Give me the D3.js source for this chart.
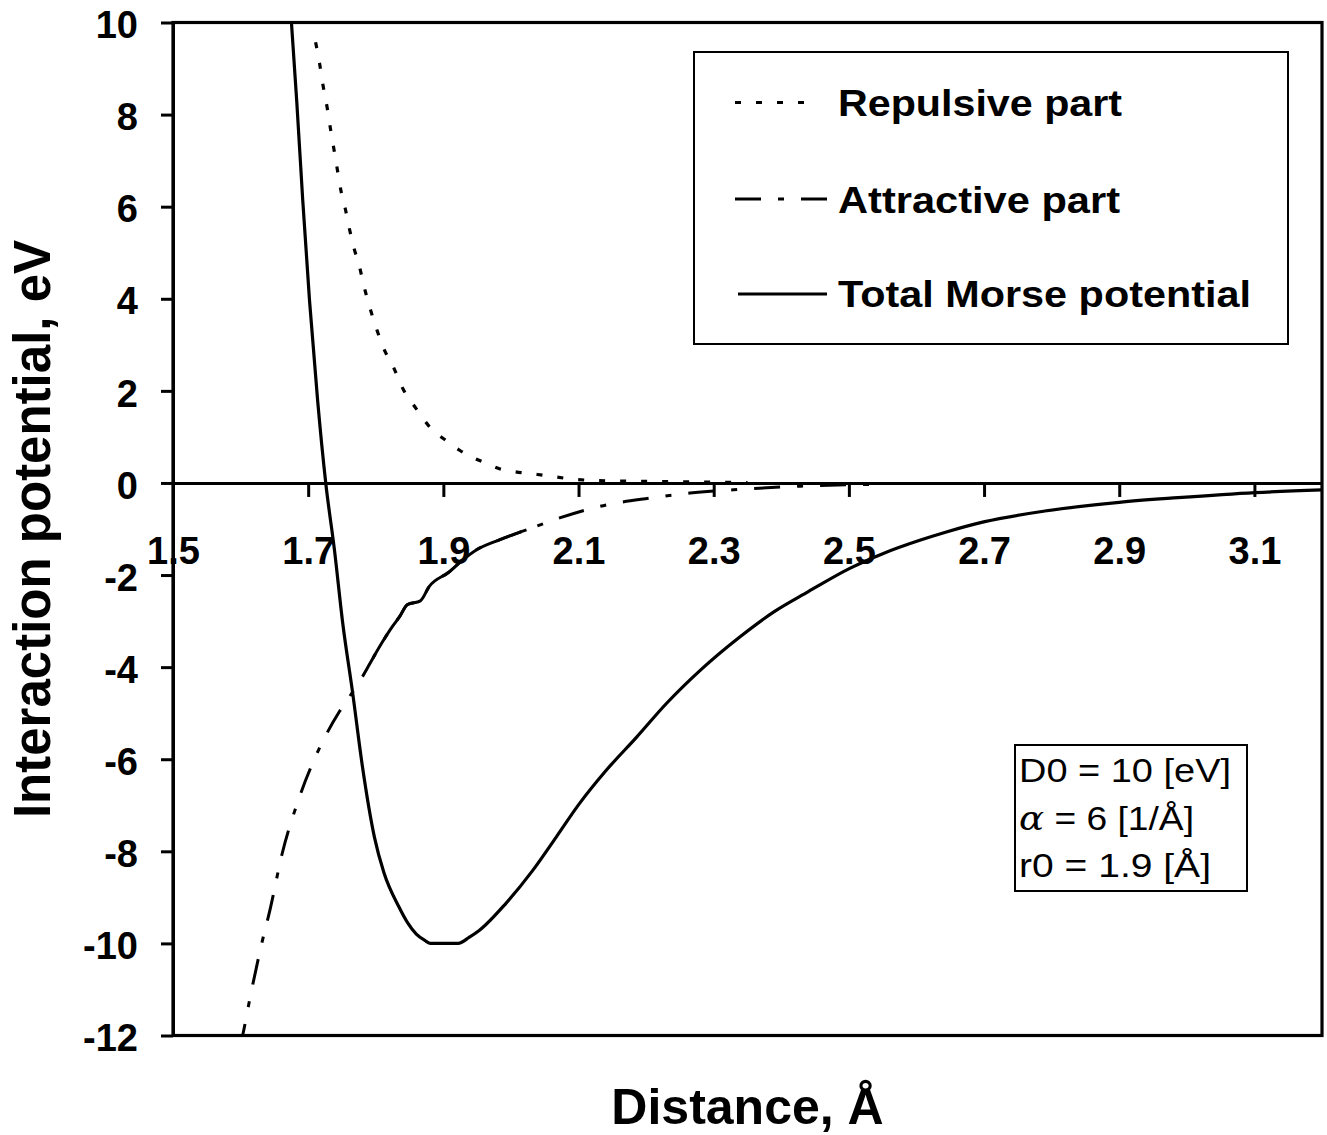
<!DOCTYPE html>
<html><head><meta charset="utf-8">
<script src="https://cdn.jsdelivr.net/npm/d3@7"></script>
<style>body{margin:0;background:#fff}</style>
</head><body>
<svg id="c" width="1327" height="1135"></svg>
<script>
// ---- data ----
const xTicks = [1.5, 1.7, 1.9, 2.1, 2.3, 2.5, 2.7, 2.9, 3.1];
const yTicks = [10, 8, 6, 4, 2, 0, -2, -4, -6, -8, -10, -12];

const repulsiveR = [1.711, 1.717, 1.722, 1.728, 1.733, 1.738, 1.743, 1.749, 1.755, 1.761, 1.768, 1.776, 1.783, 1.791, 1.802, 1.813, 1.825, 1.840, 1.860, 1.882, 1.904, 1.924, 1.944, 1.963, 1.983, 2.003, 2.030, 2.057, 2.087, 2.130, 2.230, 2.350];
const repulsiveV = [9.57, 9.10, 8.63, 8.16, 7.69, 7.26, 6.82, 6.31, 5.95, 5.52, 5.09, 4.69, 4.25, 3.82, 3.31, 2.88, 2.55, 2.05, 1.61, 1.18, 0.92, 0.71, 0.55, 0.43, 0.31, 0.25, 0.20, 0.15, 0.09, 0.05, 0.03, 0.01];

const attractiveR = [1.598, 1.603, 1.614, 1.631, 1.644, 1.661, 1.685, 1.717, 1.746, 1.764, 1.781, 1.796, 1.810, 1.825, 1.835, 1.847, 1.866, 1.879, 1.908, 1.932, 1.947, 1.982, 2.023, 2.072, 2.131, 2.205, 2.265, 2.329, 2.428, 2.540];
const attractiveV = [-12.3, -12.0, -11.18, -10.02, -9.24, -8.08, -6.91, -5.75, -4.97, -4.58, -4.19, -3.80, -3.45, -3.11, -2.91, -2.64, -2.56, -2.25, -1.94, -1.63, -1.47, -1.24, -1.02, -0.76, -0.51, -0.33, -0.22, -0.15, -0.07, -0.03];

const totalR = [1.675, 1.683, 1.692, 1.702, 1.714, 1.726, 1.739, 1.751, 1.766, 1.780, 1.798, 1.812, 1.834, 1.847, 1.860, 1.873, 1.881, 1.922, 1.938, 1.953, 1.992, 2.032, 2.067, 2.101, 2.141, 2.186, 2.230, 2.280, 2.339, 2.389, 2.440, 2.502, 2.551, 2.606, 2.643, 2.701, 2.790, 2.900, 2.987, 3.101, 3.200];
const totalV = [10.05, 8.31, 6.13, 3.96, 1.79, 0.00, -1.47, -3.03, -4.58, -6.13, -7.69, -8.46, -9.20, -9.55, -9.80, -9.94, -10.0, -10.0, -9.87, -9.72, -9.14, -8.42, -7.69, -6.97, -6.24, -5.52, -4.79, -4.07, -3.34, -2.80, -2.36, -1.85, -1.53, -1.24, -1.07, -0.84, -0.61, -0.42, -0.32, -0.21, -0.15];

const legendLabels = ["Repulsive part", "Attractive part", "Total Morse potential"];
const paramLines = ["D0 = 10 [eV]", "= 6 [1/Å]", "r0 = 1.9 [Å]"];
const yTitle = "Interaction potential, eV";
const xTitle = "Distance, Å";

// ---- layout ----
const FONT = "'Liberation Sans', Arial, Helvetica, sans-serif";
const X0 = 173, X1 = 1322, Y0 = 22.5, Y1 = 1035.5;
const svg = d3.select('#c');
const x = d3.scaleLinear().domain([1.5, 3.2]).range([X0, X1]);
const y = d3.scaleLinear().domain([-12, 10]).range([Y1, Y0]);

svg.append('rect').attr('width', 1327).attr('height', 1135).attr('fill', '#fff');
svg.append('defs').append('clipPath').attr('id', 'plot')
  .append('rect').attr('x', X0).attr('y', Y0).attr('width', X1 - X0).attr('height', Y1 - Y0);

// frame
svg.append('rect').attr('x', X0).attr('y', Y0).attr('width', X1 - X0).attr('height', Y1 - Y0)
  .attr('fill', 'none').attr('stroke', '#000').attr('stroke-width', 3.2);

// y axis
const gy = svg.append('g').attr('transform', `translate(${X0},0)`)
  .call(d3.axisLeft(y).tickValues(yTicks).tickSize(12).tickSizeOuter(0).tickPadding(23).tickFormat(d => String(d)));
gy.attr('font-family', FONT).attr('font-size', 38).attr('font-weight', 'bold');
gy.selectAll('line,path').attr('stroke', '#000').attr('stroke-width', 3);
gy.selectAll('text').attr('fill', '#000').attr('dy', '0.4em');

// x axis on the zero line
const gx = svg.append('g').attr('transform', `translate(0,${y(0)})`)
  .call(d3.axisBottom(x).tickValues(xTicks).tickSize(14).tickSizeOuter(0).tickPadding(40).tickFormat(d => d.toFixed(1)));
gx.attr('font-family', FONT).attr('font-size', 38).attr('font-weight', 'bold');
gx.selectAll('line,path').attr('stroke', '#000').attr('stroke-width', 3);
gx.selectAll('text').attr('fill', '#000');

// curves
const mk = (R, V) => R.map((r, i) => [r, V[i]]);
const line = d3.line().x(d => x(d[0])).y(d => y(d[1])).curve(d3.curveMonotoneX);
const plot = svg.append('g').attr('clip-path', 'url(#plot)');

const REP_DASH = '6,15', ATT_DASH = '26,17,6,17';
plot.append('path').datum(mk(repulsiveR, repulsiveV)).attr('d', line)
  .attr('fill', 'none').attr('stroke', '#000').attr('stroke-width', 3.2).attr('stroke-dasharray', REP_DASH);
const attr = mk(attractiveR, attractiveV);
plot.append('path').datum(attr).attr('d', line)
  .attr('fill', 'none').attr('stroke', '#000').attr('stroke-width', 3).attr('stroke-dasharray', ATT_DASH);
// densely sampled middle part renders as a continuous stroke in the reference
plot.append('path').datum(attr.filter(d => d[0] >= 1.79 && d[0] <= 2.025)).attr('d', line)
  .attr('fill', 'none').attr('stroke', '#000').attr('stroke-width', 3);
plot.append('path').datum(mk(totalR, totalV)).attr('d', line)
  .attr('fill', 'none').attr('stroke', '#000').attr('stroke-width', 3.2).attr('stroke-linejoin', 'round');

// legend
svg.append('rect').attr('x', 694).attr('y', 52).attr('width', 594).attr('height', 292)
  .attr('fill', '#fff').attr('stroke', '#000').attr('stroke-width', 2);
const legY = [102.5, 199, 294];
const legBase = [116, 212.5, 307];
const legW = [284, 282, 413];
const legDash = [REP_DASH, ATT_DASH, null];
const legX1 = [812, 827, 827];
legendLabels.forEach((t, i) => {
  const l = svg.append('line').attr('x1', i === 2 ? 738 : 735).attr('x2', legX1[i]).attr('y1', legY[i]).attr('y2', legY[i])
    .attr('stroke', '#000').attr('stroke-width', 3.2);
  if (legDash[i]) l.attr('stroke-dasharray', legDash[i]);
  svg.append('text').attr('x', 838).attr('y', legBase[i]).attr('font-family', FONT)
    .attr('font-size', 37).attr('font-weight', 'bold').attr('textLength', legW[i])
    .attr('lengthAdjust', 'spacingAndGlyphs').text(t);
});

// parameter box
svg.append('rect').attr('x', 1015).attr('y', 745).attr('width', 232).attr('height', 146)
  .attr('fill', '#fff').attr('stroke', '#000').attr('stroke-width', 2);
const parBase = [782, 830, 877];
const parW = [212, 175, 192];
paramLines.forEach((t, i) => {
  const tx = svg.append('text').attr('x', 1019).attr('y', parBase[i]).attr('font-family', FONT)
    .attr('font-size', 34).attr('textLength', parW[i]).attr('lengthAdjust', 'spacingAndGlyphs');
  if (i === 1) {
    tx.append('tspan').attr('font-family', "'DejaVu Serif', 'Liberation Serif', serif").attr('font-style', 'italic').text('α');
    tx.append('tspan').text(' ' + t);
  } else tx.text(t);
});

// axis titles
svg.append('text').attr('transform', `translate(50,${(Y0 + Y1) / 2}) rotate(-90)`)
  .attr('text-anchor', 'middle').attr('font-family', FONT).attr('font-size', 51).attr('font-weight', 'bold').text(yTitle);
svg.append('text').attr('x', (X0 + X1) / 2).attr('y', 1124)
  .attr('text-anchor', 'middle').attr('font-family', FONT).attr('font-size', 50).attr('font-weight', 'bold').text(xTitle);
</script>
</body></html>
